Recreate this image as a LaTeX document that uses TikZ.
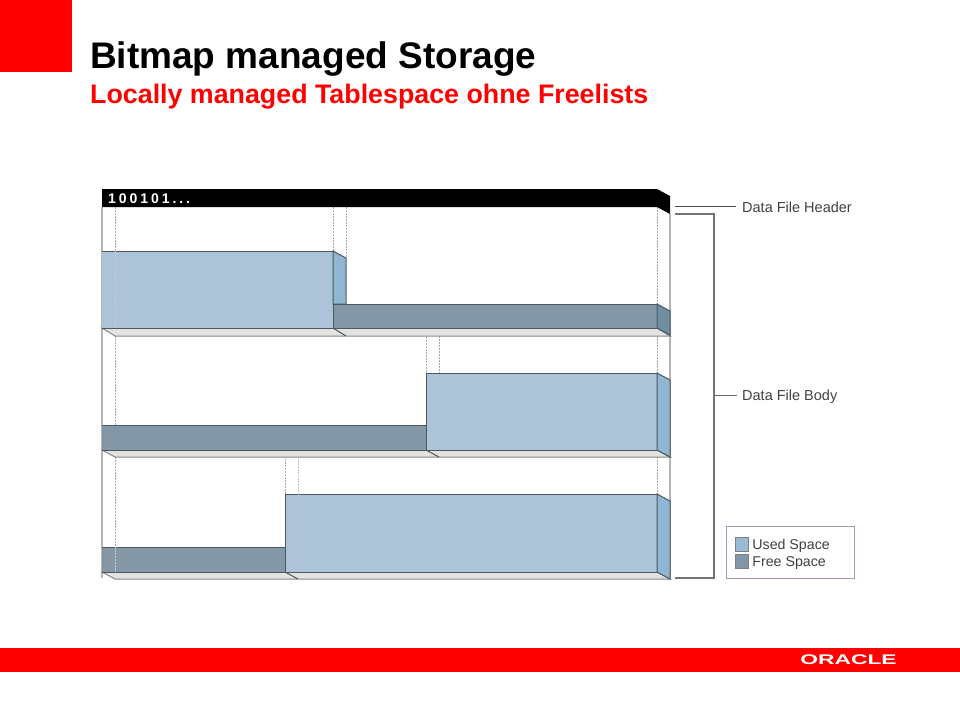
\documentclass[tikz,border=0pt]{standalone}
\usepackage{fontspec}
\setmainfont{Liberation Sans}
\newfontfamily\bitsfont[LetterSpace=21]{Liberation Sans}
\usepackage{tikz}
\usetikzlibrary{calc,positioning}
\definecolor{oraRed}{HTML}{FF0000}
\definecolor{usedFill}{HTML}{ADC3D8}
\definecolor{usedSide}{HTML}{8FB6D2}
\definecolor{freeFill}{HTML}{8497A6}
\definecolor{freeSide}{HTML}{6F8EA2}
\definecolor{floorFill}{HTML}{E2E2DF}
\definecolor{edgeDark}{HTML}{4C5761}
\definecolor{frameGray}{HTML}{B4B4B4}
\definecolor{legendEdge}{HTML}{9C9CBC}
\tikzset{used/.style={fill=usedFill,draw=edgeDark,line width=1pt}}
\tikzset{usedS/.style={fill=usedSide,draw=edgeDark,line width=1pt}}
\tikzset{free/.style={fill=freeFill,draw=edgeDark,line width=1pt}}
\tikzset{freeS/.style={fill=freeSide,draw=edgeDark,line width=1pt}}
\tikzstyle{flr}=[fill=floorFill,draw=edgeDark!70,line width=1pt]
\tikzstyle{dots}=[draw=gray!70,dash pattern=on 1.5pt off 1.5pt,line width=1pt]
\tikzstyle{lbl}=[inner sep=0pt,anchor=west,font=\fontsize{14.5}{16}\selectfont,text=black!75]
\tikzstyle{swatch}=[draw=gray,inner sep=0pt,minimum width=13pt,minimum height=14pt]
\begin{document}
\begin{tikzpicture}[x=1pt,y=-1pt,node distance=17pt]
\useasboundingbox (0,0) rectangle (960,720);
% slide furniture
\fill[oraRed] (0,0) rectangle (72,72);
\fill[oraRed] (0,648) rectangle (960,672);
\node[inner sep=0pt,anchor=base west,font=\bfseries\fontsize{37}{40}\selectfont] (Title) at (90,68){Bitmap managed Storage};
\node[inner sep=0pt,anchor=base west,font=\bfseries\fontsize{26.8}{30}\selectfont,text=oraRed] (Sub) at (90,103){Locally managed Tablespace ohne Freelists};
\node[inner sep=0pt,text=white,font=\bfseries\fontsize{14}{14}\selectfont] (Logo) at (848.5,659.5){\scalebox{1.63}[1]{ORACLE}};
% frame
\draw[frameGray,line width=1.6pt] (102,207) -- (102,578);
\draw[frameGray,line width=1.6pt] (670,214) -- (670,578);
% dotted guides
\draw[dots] (115,207) -- (115,328) (115,336) -- (115,425) (115,457) -- (115,572);
\draw[dots] (333,207) -- (333,251) (346,207) -- (346,258);
\draw[dots] (657,207) -- (657,304) (657,336) -- (657,373) (657,457) -- (657,494);
\draw[dots] (426,328) -- (426,373) (439,336) -- (439,373);
\draw[dots] (285,450) -- (285,494);
% row 1
\draw[flr] (102,328) -- (115,336) -- (670,336) -- (657,328) -- cycle;
\draw[edgeDark,line width=1pt] (333,328) -- (346,336);
\draw[used] (102,251) -- (333,251) -- (333,328) -- (102,328);
\draw[usedS] (333,251) -- (346,258) -- (346,304) -- (333,304) -- cycle;
\draw[free] (333,304) rectangle (657,328);
\draw[freeS] (657,304) -- (670,311) -- (670,335) -- (657,328) -- cycle;
\draw[dots,draw=gray!40] (115,251) -- (115,328);
% row 2
\draw[flr] (102,450) -- (115,457) -- (670,457) -- (657,450) -- cycle;
\draw[edgeDark,line width=1pt] (426,450) -- (439,457);
\draw[free] (102,425) -- (426,425) -- (426,450) -- (102,450);
\draw[used] (426,373) rectangle (657,450);
\draw[usedS] (657,373) -- (670,380) -- (670,457) -- (657,450) -- cycle;
% row 3
\draw[flr] (102,572) -- (115,579) -- (670,579) -- (657,572) -- cycle;
\draw[edgeDark,line width=1pt] (285,572) -- (298,579);
\draw[free] (102,547) -- (285,547) -- (285,572) -- (102,572);
\draw[used] (285,494) rectangle (657,572);
\draw[usedS] (657,494) -- (670,501) -- (670,579) -- (657,572) -- cycle;
\draw[dots,draw=gray!50] (298,457) -- (298,572);
\draw[dots,draw=gray!40] (115,547) -- (115,572);
% header
\fill[black] (102,189) -- (657,189) -- (670,196) -- (670,214) -- (657,207) -- (102,207) -- cycle;
\node[inner sep=0pt,anchor=base west,text=white,font=\bitsfont\bfseries\fontsize{14}{15}\selectfont] (Bits) at (108,203){100101...};
% labels
\node[lbl] (Hdr) at (742,207){Data File Header};
\node[lbl] (Body) at (742,396.5){Data File Body};
\coordinate (HdrEnd) at (675,206);
\coordinate (BrTop) at (675,214);
\coordinate (BrTopR) at (714,214);
\coordinate (BrBot) at (675,578);
\coordinate (BrBotR) at (714,578);
\coordinate (BrMid) at (714,395);
\draw[black!70,line width=0.9pt] (HdrEnd) -- (736,206);
\draw[black!55,line width=1.2pt] (BrTop) -- (BrTopR) -- (BrBotR) -- (BrBot);
\draw[black!60,line width=1pt] (BrMid) -- (737,395);
% legend
\node[draw=legendEdge,line width=1pt,inner sep=0pt,minimum width=128pt,minimum height=52pt] (Legend) at (790,552){};
\node[swatch,fill=usedSide!70!usedFill] (SwUsed) at (741.5,544){};
\node[swatch,fill=freeFill,below of=SwUsed] (SwFree){};
\node[lbl,font=\fontsize{14.2}{16}\selectfont,right=4pt of SwUsed,yshift=-2pt] (UsedTxt){Used Space};
\node[lbl,font=\fontsize{14.2}{16}\selectfont,right=4pt of SwFree,yshift=-2pt] (FreeTxt){Free Space};
\end{tikzpicture}
\end{document}
